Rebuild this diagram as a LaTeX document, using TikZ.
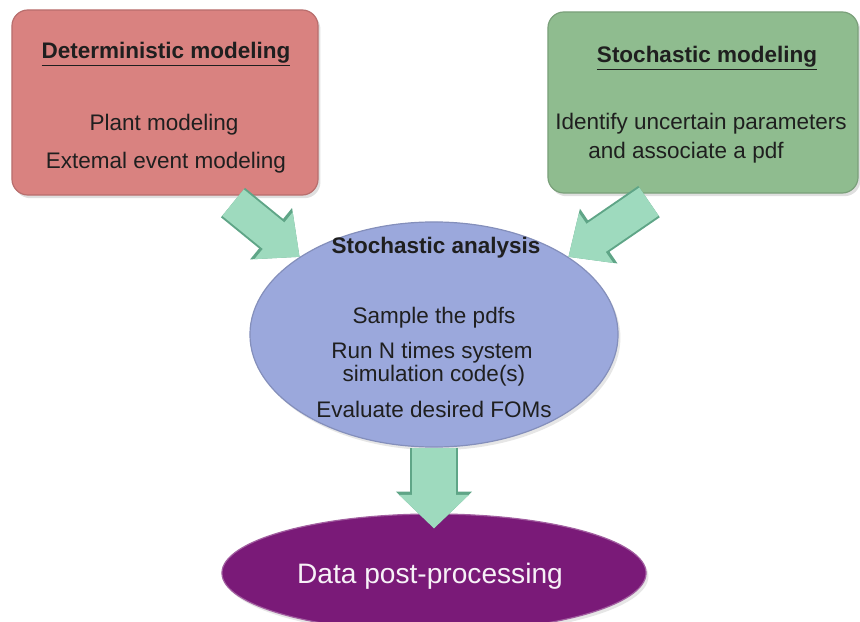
\documentclass[tikz,border=0pt]{standalone}
\usepackage{fontspec}
\setmainfont{Liberation Sans}
\usetikzlibrary{calc,shapes.geometric,arrows.meta,shadows}

\definecolor{detred}{RGB}{217,130,128}
\definecolor{stogreen}{RGB}{143,188,143}
\definecolor{anablue}{RGB}{155,168,220}
\definecolor{postpurple}{RGB}{122,26,120}
\definecolor{arrowmint}{RGB}{158,218,190}
\definecolor{arrowedge}{RGB}{95,165,135}

\tikzset{
	modelbox/.style={draw=#1!85!black, fill=#1, rounded corners=0.4cm, line width=0.3mm,
		drop shadow={opacity=0.25, shadow xshift=0.6mm, shadow yshift=-0.8mm}},
	bubble/.style={ellipse, draw=#1!85!black, fill=#1, line width=0.3mm,
		drop shadow={opacity=0.2, shadow xshift=0.6mm, shadow yshift=-0.8mm}},
	boxtext/.style={font=\fontsize{16}{19}\selectfont, text=black!88, inner sep=0pt, anchor=base},
	titletext/.style={boxtext, font=\fontsize{16}{19}\selectfont\bfseries},
	posttext/.style={boxtext, font=\fontsize{20}{24}\selectfont, text=white!94!postpurple},
	diagarrow/.style={line width=0.95cm, draw=arrowedge, -{Triangle[width=1.6cm,length=0.92cm]},
		postaction={draw=arrowmint, line width=0.85cm, -{Triangle[width=1.46cm,length=0.84cm]}}},
	downarrow/.style={line width=1.2cm, draw=arrowedge, -{Triangle[width=1.85cm,length=0.92cm]},
		postaction={draw=arrowmint, line width=1.1cm, -{Triangle[width=1.7cm,length=0.84cm]}}}
}

\begin{document}
\begin{tikzpicture}[x=0.025cm,y=-0.025cm]
			%%%%% START %%%%%
			\useasboundingbox (0,0) rectangle (860,622);
			
			% the two modeling boxes
			\node[modelbox=detred, minimum width=7.65cm, minimum height=4.625cm] (det) at (165,102.5) {};
			\node[modelbox=stogreen, minimum width=7.75cm, minimum height=4.525cm] (stm) at (703,102.5) {};
			
			\node[titletext] (dett) at (166,59) {\underline{Deterministic modeling}};
			\node[boxtext] (det1) at (164,131) {Plant modeling};
			\node[boxtext] (det2) at (166,169) {Extemal event modeling};
			
			\node[titletext] (stmt) at (707,63) {\underline{Stochastic modeling}};
			\node[boxtext] (stm1) at (701,130) {Identify uncertain parameters};
			\node[boxtext] (stm2) at (686,159) {and associate a pdf};
			
			% analysis and post-processing
			\node[bubble=anablue, minimum width=9.2cm, minimum height=5.625cm] (ana) at (434,334.5) {};
			\node[bubble=postpurple, minimum width=10.6cm, minimum height=2.95cm, draw=postpurple!70!white] (post) at (434,573) {};
			
			\node[titletext] (anat) at (436,254) {Stochastic analysis};
			\node[boxtext] (ana1) at (434,323) {Sample the pdfs};
			\node[boxtext] (ana2) at (432,358) {Run N times system};
			\node[boxtext] (ana3) at (434,381) {simulation code(s)};
			\node[boxtext] (ana4) at (434,417) {Evaluate desired FOMs};
			
			\node[posttext] (postt) at (430,583) {Data post-processing};
			
			% block arrows
			\draw[diagarrow] ($(det.south)+(68,7)$) -- (ana.150);
			\draw[diagarrow] ($(stm.south)+(-54,8)$) -- (ana.30);
			\draw[downarrow] (ana.south) -- ($(post.north)+(0,15)$);
			
			%%%%% END %%%%%
\end{tikzpicture}
\end{document}
